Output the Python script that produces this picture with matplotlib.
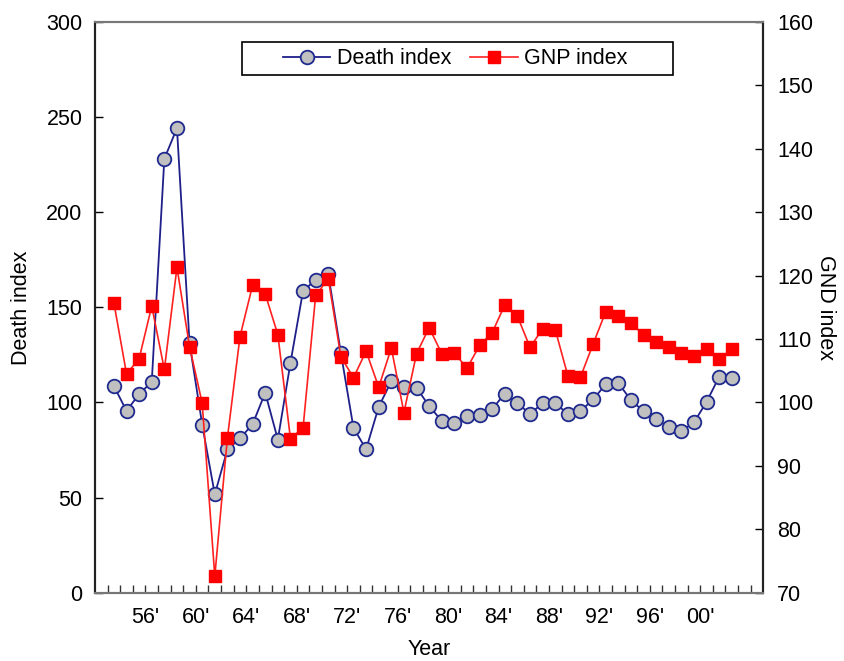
import matplotlib
matplotlib.use("Agg")
import matplotlib.pyplot as plt
from matplotlib.ticker import FixedLocator
from matplotlib.patches import Rectangle

plt.rcParams['font.family'] = ['Liberation Sans', 'DejaVu Sans']

years = list(range(1953, 2003))
death_index = [108.6, 95.6, 104.4, 110.8, 228.1, 244.2, 131.1, 88.4, 51.7, 75.3,
               81.1, 88.6, 105.1, 80.5, 120.8, 158.7, 164.4, 167.5, 126.0, 86.6,
               75.4, 97.7, 111.2, 108.2, 107.7, 98.1, 90.3, 89.3, 93.0, 93.3,
               96.5, 104.7, 99.8, 93.8, 99.8, 99.8, 93.8, 95.4, 101.6, 109.5,
               110.3, 101.2, 95.4, 91.1, 87.2, 84.9, 89.5, 100.3, 113.5, 112.6]
gnp_index = [115.7, 104.5, 106.9, 115.2, 105.2, 121.3, 108.8, 99.9, 72.6, 94.4,
             110.4, 118.5, 117.1, 110.7, 94.3, 96.0, 116.9, 119.5, 107.2, 103.9,
             108.1, 102.4, 108.6, 98.4, 107.7, 111.8, 107.7, 107.8, 105.4, 109.0,
             111.0, 115.4, 113.6, 108.7, 111.6, 111.5, 104.2, 104.0, 109.2, 114.3,
             113.6, 112.6, 110.6, 109.6, 108.7, 107.8, 107.3, 108.5, 106.9, 108.4]
tick_years = [1956, 1960, 1964, 1968, 1972, 1976, 1980, 1984, 1988, 1992, 1996, 2000]
tick_labels = ["56'", "60'", "64'", "68'", "72'", "76'", "80'", "84'", "88'", "92'", "96'", "00'"]

FS = 15.5
fig = plt.figure(figsize=(8.45, 6.61), dpi=100)
ax = fig.add_axes([95/845, 1-592.7/661, (763.3-95)/845, (592.7-22)/661])
ax2 = ax.twinx()

l1, = ax.plot(years, death_index, '-', color='#1f1f8a', lw=1.3, marker='o',
              markersize=9.8, markerfacecolor='#c0c0c0', markeredgecolor='#1f2a8f',
              markeredgewidth=1.3, label='Death index', zorder=3)
l2, = ax2.plot(years, gnp_index, '-', color='#ff2020', lw=1.2, marker='s',
               markersize=8.8, markerfacecolor='#ff0000', markeredgecolor='#ff0000',
               label='GNP index', zorder=4)

ax.set_xlim(1951.5, 2004.5)
ax.set_ylim(0, 300)
ax2.set_ylim(70, 160)
ax.set_yticks(range(0, 301, 50))
ax2.set_yticks(range(70, 161, 10))

ax.xaxis.set_major_locator(FixedLocator([y - 0.5 for y in tick_years]))
ax.set_xticklabels(tick_labels)
ax.xaxis.set_minor_locator(FixedLocator([y + 0.5 for y in range(1952, 2004)]))

ax.tick_params(axis='x', which='both', direction='in', length=6, width=1.0,
               color='#333333', labelsize=FS, pad=10)
ax.tick_params(axis='y', direction='in', length=6, width=1.0, labelsize=FS, pad=9)
ax2.tick_params(axis='y', direction='in', length=6, width=1.0, labelsize=FS, pad=10)

for a in (ax, ax2):
    a.spines['top'].set_color('#777777')
    a.spines['bottom'].set_color('#777777')
    a.spines['left'].set_color('#222222')
    a.spines['right'].set_color('#222222')
    for s in a.spines.values():
        s.set_linewidth(1.5)

ax.set_xlabel('Year', fontsize=FS, labelpad=8)
ax.set_ylabel('Death index', fontsize=FS, labelpad=10)
ax2.set_ylabel('GND index', fontsize=FS, rotation=270, labelpad=16)

# legend frame (wider than matplotlib's own frame in the original)
frame = Rectangle((0.2204, 0.9071), 0.8653 - 0.2204, 0.9644 - 0.9071,
                  transform=ax2.transAxes, facecolor='white', edgecolor='black',
                  linewidth=1.2, zorder=5)
ax2.add_patch(frame)
leg = ax2.legend([l1, l2], ['Death index', 'GNP index'], loc='center',
                 bbox_to_anchor=(0.5391, 0.9357), ncol=2, fontsize=FS,
                 frameon=False, borderaxespad=0, borderpad=0,
                 handlelength=2.2, columnspacing=0.9, handletextpad=0.3)
leg.set_zorder(6)

fig.savefig('out.png', dpi=100)
